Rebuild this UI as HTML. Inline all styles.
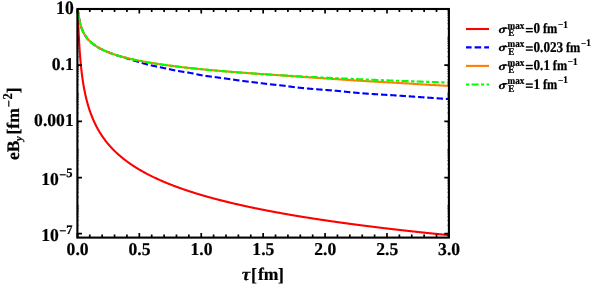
<!DOCTYPE html>
<html><head><meta charset="utf-8"><style>
html,body{margin:0;padding:0;background:#fff;}
svg{display:block;will-change:transform;transform:translateZ(0)}
text{font-family:"Liberation Serif",serif;font-weight:bold;fill:#000;stroke:#000;stroke-width:0.22px;text-rendering:geometricPrecision}
</style></head><body>
<svg width="599" height="285" viewBox="0 0 599 285">
<rect width="599" height="285" fill="#fff"/>
<defs><clipPath id="c"><rect x="77.40" y="9.00" width="371.50" height="228.60"/></clipPath></defs>
<g clip-path="url(#c)" fill="none" stroke-width="2.1" stroke-linejoin="round">
<path d="M77.40,9.00 L77.50,9.31 L77.60,10.20 L77.70,11.59 L77.80,13.38 L77.90,15.44 L78.00,17.69 L78.10,20.03 L78.20,22.41 L78.30,24.77 L78.40,27.10 L78.50,29.36 L78.60,31.56 L78.70,33.69 L78.80,35.73 L78.90,37.70 L79.00,39.60 L79.10,41.42 L79.20,43.17 L79.30,44.86 L79.40,46.48 L79.50,48.05 L79.60,49.55 L79.70,51.01 L79.80,52.42 L79.90,53.78 L80.00,55.09 L80.10,56.37 L80.20,57.60 L80.30,58.80 L80.40,59.96 L80.50,61.09 L80.60,62.18 L80.70,63.25 L80.80,64.29 L80.90,65.30 L81.00,66.28 L81.10,67.24 L81.20,68.18 L81.30,69.09 L81.40,69.99 L81.50,70.86 L81.60,71.71 L81.70,72.55 L81.80,73.36 L81.90,74.16 L82.00,74.94 L82.10,75.71 L82.20,76.46 L82.30,77.20 L82.40,77.92 L82.50,78.63 L82.60,79.32 L82.70,80.00 L82.80,80.67 L82.90,81.33 L83.00,81.98 L83.10,82.61 L83.20,83.24 L83.30,83.85 L83.40,84.46 L83.60,85.64 L83.80,86.79 L84.00,87.90 L84.20,88.97 L84.40,90.02 L84.60,91.04 L84.80,92.03 L85.00,93.00 L85.20,93.94 L85.40,94.86 L85.60,95.75 L85.80,96.63 L86.00,97.48 L86.20,98.32 L86.40,99.13 L86.60,99.93 L86.80,100.71 L87.00,101.48 L87.20,102.23 L87.40,102.96 L87.60,103.69 L87.80,104.39 L88.00,105.09 L88.20,105.77 L88.40,106.43 L88.60,107.09 L88.80,107.74 L89.00,108.37 L89.20,108.99 L89.40,109.60 L89.60,110.21 L89.80,110.80 L90.00,111.38 L90.20,111.96 L90.40,112.52 L90.60,113.08 L90.80,113.63 L91.00,114.17 L91.20,114.70 L91.40,115.23 L91.60,115.74 L91.80,116.25 L92.00,116.76 L92.20,117.25 L92.40,117.74 L92.60,118.23 L92.80,118.70 L93.00,119.18 L93.20,119.64 L93.40,120.10 L93.60,120.55 L93.80,121.00 L94.00,121.44 L94.20,121.88 L94.40,122.31 L94.60,122.74 L94.80,123.16 L95.00,123.58 L95.20,123.99 L95.40,124.40 L95.60,124.81 L95.80,125.20 L96.00,125.60 L96.20,125.99 L96.40,126.38 L96.60,126.76 L96.80,127.14 L97.00,127.51 L97.20,127.88 L97.40,128.25 L97.60,128.61 L97.80,128.98 L98.00,129.33 L98.20,129.68 L98.40,130.03 L98.60,130.38 L98.80,130.72 L99.00,131.06 L99.20,131.40 L99.40,131.73 L99.60,132.07 L99.80,132.39 L100.00,132.72 L100.20,133.04 L100.40,133.36 L100.60,133.68 L100.80,133.99 L101.00,134.30 L101.20,134.61 L101.40,134.92 L101.60,135.22 L101.80,135.52 L102.00,135.82 L102.20,136.11 L102.40,136.41 L102.60,136.70 L102.80,136.99 L103.00,137.28 L103.20,137.56 L103.40,137.84 L103.60,138.12 L103.80,138.40 L104.00,138.68 L104.20,138.95 L104.40,139.22 L104.60,139.49 L104.80,139.76 L105.00,140.03 L105.20,140.29 L105.40,140.55 L105.60,140.81 L105.80,141.07 L106.00,141.33 L106.20,141.58 L106.40,141.84 L106.60,142.09 L106.80,142.34 L107.00,142.58 L107.20,142.83 L107.40,143.08 L107.60,143.32 L107.80,143.56 L108.00,143.80 L108.20,144.04 L108.40,144.27 L108.60,144.51 L108.80,144.74 L109.00,144.98 L109.20,145.21 L109.40,145.44 L109.60,145.66 L109.80,145.89 L110.00,146.12 L110.20,146.34 L110.40,146.56 L110.60,146.78 L110.80,147.00 L111.00,147.22 L111.20,147.44 L111.40,147.65 L111.60,147.87 L111.80,148.08 L112.00,148.29 L112.20,148.50 L112.40,148.71 L112.60,148.92 L112.80,149.13 L113.00,149.34 L113.20,149.54 L113.40,149.74 L113.60,149.95 L113.80,150.15 L114.00,150.35 L114.20,150.55 L114.40,150.75 L114.60,150.94 L114.80,151.14 L115.00,151.34 L115.20,151.53 L115.40,151.72 L115.60,151.91 L115.80,152.11 L116.00,152.30 L116.20,152.48 L116.40,152.67 L116.60,152.86 L116.80,153.05 L117.00,153.23 L117.20,153.42 L117.40,153.60 L117.90,154.05 L118.40,154.50 L118.90,154.95 L119.40,155.39 L119.90,155.82 L120.40,156.25 L120.90,156.67 L121.41,157.09 L121.91,157.50 L122.41,157.91 L122.91,158.32 L123.41,158.72 L123.91,159.11 L124.41,159.51 L124.91,159.89 L125.41,160.28 L125.91,160.66 L126.41,161.03 L126.91,161.41 L127.41,161.77 L127.92,162.14 L128.42,162.50 L128.92,162.86 L129.42,163.21 L129.92,163.56 L130.42,163.91 L130.92,164.25 L131.42,164.59 L131.92,164.93 L132.42,165.26 L132.92,165.60 L133.42,165.93 L133.92,166.25 L134.42,166.57 L134.93,166.89 L135.43,167.21 L135.93,167.52 L136.43,167.84 L136.93,168.15 L137.43,168.45 L137.93,168.76 L138.43,169.06 L138.93,169.36 L139.43,169.65 L139.93,169.95 L140.43,170.24 L140.93,170.53 L141.44,170.82 L141.94,171.10 L142.44,171.38 L142.94,171.66 L143.44,171.94 L143.94,172.22 L144.44,172.49 L144.94,172.77 L145.44,173.04 L145.94,173.31 L146.44,173.57 L146.94,173.84 L147.44,174.10 L147.95,174.36 L148.45,174.62 L148.95,174.87 L149.45,175.13 L149.95,175.38 L150.45,175.64 L150.95,175.89 L151.45,176.13 L151.95,176.38 L152.45,176.63 L152.95,176.87 L153.45,177.11 L153.95,177.35 L154.46,177.59 L154.96,177.83 L155.46,178.06 L155.96,178.30 L156.46,178.53 L156.96,178.76 L157.46,178.99 L157.96,179.22 L158.46,179.44 L158.96,179.67 L159.46,179.89 L159.96,180.12 L160.46,180.34 L160.97,180.56 L161.47,180.78 L161.97,180.99 L162.47,181.21 L162.97,181.42 L163.47,181.64 L163.97,181.85 L164.47,182.06 L164.97,182.27 L165.47,182.48 L165.97,182.69 L166.47,182.89 L166.97,183.10 L167.47,183.30 L167.98,183.51 L168.48,183.71 L168.98,183.91 L169.48,184.11 L169.98,184.31 L170.48,184.50 L170.98,184.70 L171.48,184.89 L171.98,185.09 L172.48,185.28 L172.98,185.47 L173.48,185.67 L173.98,185.86 L174.49,186.05 L174.99,186.23 L175.49,186.42 L175.99,186.61 L176.49,186.79 L176.99,186.98 L177.49,187.16 L177.99,187.34 L178.49,187.52 L178.99,187.71 L179.49,187.89 L179.99,188.06 L180.49,188.24 L181.00,188.42 L181.50,188.60 L182.00,188.77 L182.50,188.95 L183.00,189.12 L183.50,189.29 L184.00,189.47 L184.50,189.64 L185.00,189.81 L185.50,189.98 L186.00,190.15 L186.50,190.32 L187.00,190.48 L187.51,190.65 L188.01,190.82 L188.51,190.98 L189.01,191.15 L189.51,191.31 L190.01,191.47 L190.51,191.64 L191.01,191.80 L191.51,191.96 L192.01,192.12 L192.51,192.28 L193.01,192.44 L193.51,192.60 L194.01,192.75 L194.52,192.91 L195.02,193.07 L195.52,193.22 L196.02,193.38 L196.52,193.53 L197.02,193.68 L197.52,193.84 L198.02,193.99 L198.52,194.14 L199.02,194.29 L199.52,194.44 L200.02,194.59 L200.52,194.74 L201.03,194.89 L201.53,195.04 L202.03,195.18 L202.53,195.33 L203.03,195.48 L203.53,195.62 L204.03,195.77 L204.53,195.91 L205.03,196.06 L205.53,196.20 L206.03,196.34 L206.53,196.48 L207.03,196.63 L207.54,196.77 L208.04,196.91 L208.54,197.05 L209.04,197.19 L209.54,197.33 L210.04,197.46 L210.54,197.60 L211.04,197.74 L211.54,197.88 L212.04,198.01 L212.54,198.15 L213.04,198.28 L213.54,198.42 L214.05,198.55 L214.55,198.69 L215.05,198.82 L215.55,198.95 L216.05,199.09 L216.55,199.22 L217.05,199.35 L217.55,199.48 L218.05,199.61 L218.55,199.74 L219.05,199.87 L219.55,200.00 L220.05,200.13 L220.56,200.26 L221.06,200.38 L221.56,200.51 L222.06,200.64 L222.56,200.77 L223.06,200.89 L223.56,201.02 L224.06,201.14 L224.56,201.27 L225.06,201.39 L225.56,201.52 L226.06,201.64 L226.56,201.76 L227.06,201.88 L227.57,202.01 L228.07,202.13 L228.57,202.25 L229.07,202.37 L229.57,202.49 L230.07,202.61 L230.57,202.73 L231.07,202.85 L231.57,202.97 L232.07,203.09 L232.57,203.21 L233.07,203.32 L233.57,203.44 L234.08,203.56 L234.58,203.68 L235.08,203.79 L235.58,203.91 L236.08,204.02 L236.58,204.14 L237.08,204.25 L237.58,204.37 L238.08,204.48 L238.58,204.60 L239.08,204.71 L239.58,204.82 L240.08,204.94 L240.59,205.05 L241.09,205.16 L241.59,205.27 L242.09,205.38 L242.59,205.50 L243.09,205.61 L243.59,205.72 L244.09,205.83 L244.59,205.94 L245.09,206.05 L245.59,206.16 L246.09,206.26 L246.59,206.37 L247.10,206.48 L247.60,206.59 L248.10,206.70 L248.60,206.80 L249.10,206.91 L249.60,207.02 L250.10,207.12 L250.60,207.23 L251.10,207.33 L251.60,207.44 L252.10,207.55 L252.60,207.65 L253.10,207.75 L253.60,207.86 L254.11,207.96 L254.61,208.07 L255.11,208.17 L255.61,208.27 L256.11,208.38 L256.61,208.48 L257.11,208.58 L257.61,208.68 L258.11,208.78 L258.61,208.88 L259.11,208.99 L259.61,209.09 L260.11,209.19 L260.62,209.29 L261.12,209.39 L261.62,209.49 L262.12,209.59 L262.62,209.68 L263.12,209.78 L263.62,209.88 L264.12,209.98 L264.62,210.08 L265.12,210.18 L265.62,210.27 L266.12,210.37 L266.62,210.47 L267.13,210.56 L267.63,210.66 L268.13,210.76 L268.63,210.85 L269.13,210.95 L269.63,211.04 L270.13,211.14 L270.63,211.23 L271.13,211.33 L271.63,211.42 L272.13,211.52 L272.63,211.61 L273.13,211.71 L273.64,211.80 L274.14,211.89 L274.64,211.99 L275.14,212.08 L275.64,212.17 L276.14,212.26 L276.64,212.36 L277.14,212.45 L277.64,212.54 L278.14,212.63 L278.64,212.72 L279.14,212.81 L279.64,212.90 L280.15,212.99 L280.65,213.08 L281.15,213.17 L281.65,213.26 L282.15,213.35 L282.65,213.44 L283.15,213.53 L283.65,213.62 L284.15,213.71 L284.65,213.80 L285.15,213.89 L285.65,213.97 L286.15,214.06 L286.65,214.15 L287.16,214.24 L287.66,214.32 L288.16,214.41 L288.66,214.50 L289.16,214.59 L289.66,214.67 L290.16,214.76 L290.66,214.84 L291.16,214.93 L291.66,215.02 L292.16,215.10 L292.66,215.19 L293.16,215.27 L293.67,215.36 L294.17,215.44 L294.67,215.53 L295.17,215.61 L295.67,215.69 L296.17,215.78 L296.67,215.86 L297.17,215.94 L297.67,216.03 L298.17,216.11 L298.67,216.19 L299.17,216.28 L299.67,216.36 L300.18,216.44 L300.68,216.52 L301.18,216.61 L301.68,216.69 L302.18,216.77 L302.68,216.85 L303.18,216.93 L303.68,217.01 L304.18,217.09 L304.68,217.17 L305.18,217.25 L305.68,217.34 L306.18,217.42 L306.69,217.50 L307.19,217.58 L307.69,217.66 L308.19,217.73 L308.69,217.81 L309.19,217.89 L309.69,217.97 L310.19,218.05 L310.69,218.13 L311.19,218.21 L311.69,218.29 L312.19,218.36 L312.69,218.44 L313.20,218.52 L313.70,218.60 L314.20,218.68 L314.70,218.75 L315.20,218.83 L315.70,218.91 L316.20,218.98 L316.70,219.06 L317.20,219.14 L317.70,219.21 L318.20,219.29 L318.70,219.37 L319.20,219.44 L319.70,219.52 L320.21,219.59 L320.71,219.67 L321.21,219.74 L321.71,219.82 L322.21,219.89 L322.71,219.97 L323.21,220.04 L323.71,220.12 L324.21,220.19 L324.71,220.27 L325.21,220.34 L325.71,220.41 L326.21,220.49 L326.72,220.56 L327.22,220.63 L327.72,220.71 L328.22,220.78 L328.72,220.85 L329.22,220.93 L329.72,221.00 L330.22,221.07 L330.72,221.14 L331.22,221.22 L331.72,221.29 L332.22,221.36 L332.72,221.43 L333.23,221.50 L333.73,221.58 L334.23,221.65 L334.73,221.72 L335.23,221.79 L335.73,221.86 L336.23,221.93 L336.73,222.00 L337.23,222.07 L337.73,222.14 L338.23,222.21 L338.73,222.28 L339.23,222.35 L339.74,222.42 L340.24,222.49 L340.74,222.56 L341.24,222.63 L341.74,222.70 L342.24,222.77 L342.74,222.84 L343.24,222.91 L343.74,222.98 L344.24,223.05 L344.74,223.12 L345.24,223.18 L345.74,223.25 L346.24,223.32 L346.75,223.39 L347.25,223.46 L347.75,223.52 L348.25,223.59 L348.75,223.66 L349.25,223.73 L349.75,223.79 L350.25,223.86 L350.75,223.93 L351.25,224.00 L351.75,224.06 L352.25,224.13 L352.75,224.20 L353.26,224.26 L353.76,224.33 L354.26,224.40 L354.76,224.46 L355.26,224.53 L355.76,224.59 L356.26,224.66 L356.76,224.72 L357.26,224.79 L357.76,224.86 L358.26,224.92 L358.76,224.99 L359.26,225.05 L359.77,225.12 L360.27,225.18 L360.77,225.25 L361.27,225.31 L361.77,225.38 L362.27,225.44 L362.77,225.50 L363.27,225.57 L363.77,225.63 L364.27,225.70 L364.77,225.76 L365.27,225.82 L365.77,225.89 L366.28,225.95 L366.78,226.01 L367.28,226.08 L367.78,226.14 L368.28,226.20 L368.78,226.27 L369.28,226.33 L369.78,226.39 L370.28,226.45 L370.78,226.52 L371.28,226.58 L371.78,226.64 L372.28,226.70 L372.79,226.77 L373.29,226.83 L373.79,226.89 L374.29,226.95 L374.79,227.01 L375.29,227.08 L375.79,227.14 L376.29,227.20 L376.79,227.26 L377.29,227.32 L377.79,227.38 L378.29,227.44 L378.79,227.50 L379.29,227.56 L379.80,227.62 L380.30,227.69 L380.80,227.75 L381.30,227.81 L381.80,227.87 L382.30,227.93 L382.80,227.99 L383.30,228.05 L383.80,228.11 L384.30,228.17 L384.80,228.23 L385.30,228.29 L385.80,228.34 L386.31,228.40 L386.81,228.46 L387.31,228.52 L387.81,228.58 L388.31,228.64 L388.81,228.70 L389.31,228.76 L389.81,228.82 L390.31,228.88 L390.81,228.93 L391.31,228.99 L391.81,229.05 L392.31,229.11 L392.82,229.17 L393.32,229.23 L393.82,229.28 L394.32,229.34 L394.82,229.40 L395.32,229.46 L395.82,229.51 L396.32,229.57 L396.82,229.63 L397.32,229.69 L397.82,229.74 L398.32,229.80 L398.82,229.86 L399.33,229.92 L399.83,229.97 L400.33,230.03 L400.83,230.09 L401.33,230.14 L401.83,230.20 L402.33,230.26 L402.83,230.31 L403.33,230.37 L403.83,230.42 L404.33,230.48 L404.83,230.54 L405.33,230.59 L405.83,230.65 L406.34,230.70 L406.84,230.76 L407.34,230.81 L407.84,230.87 L408.34,230.93 L408.84,230.98 L409.34,231.04 L409.84,231.09 L410.34,231.15 L410.84,231.20 L411.34,231.26 L411.84,231.31 L412.34,231.37 L412.85,231.42 L413.35,231.48 L413.85,231.53 L414.35,231.58 L414.85,231.64 L415.35,231.69 L415.85,231.75 L416.35,231.80 L416.85,231.86 L417.35,231.91 L417.85,231.96 L418.35,232.02 L418.85,232.07 L419.36,232.12 L419.86,232.18 L420.36,232.23 L420.86,232.28 L421.36,232.34 L421.86,232.39 L422.36,232.44 L422.86,232.50 L423.36,232.55 L423.86,232.60 L424.36,232.66 L424.86,232.71 L425.36,232.76 L425.87,232.81 L426.37,232.87 L426.87,232.92 L427.37,232.97 L427.87,233.02 L428.37,233.08 L428.87,233.13 L429.37,233.18 L429.87,233.23 L430.37,233.28 L430.87,233.34 L431.37,233.39 L431.87,233.44 L432.38,233.49 L432.88,233.54 L433.38,233.59 L433.88,233.65 L434.38,233.70 L434.88,233.75 L435.38,233.80 L435.88,233.85 L436.38,233.90 L436.88,233.95 L437.38,234.00 L437.88,234.06 L438.38,234.11 L438.88,234.16 L439.39,234.21 L439.89,234.26 L440.39,234.31 L440.89,234.36 L441.39,234.41 L441.89,234.46 L442.39,234.51 L442.89,234.56 L443.39,234.61 L443.89,234.66 L444.39,234.71 L444.89,234.76 L445.39,234.81 L445.90,234.86 L446.40,234.91 L446.90,234.96 L447.40,235.01 L447.90,235.06 L448.40,235.11 L448.90,235.16" stroke="#ff0000"/>
<path d="M77.40,9.00 L77.50,9.08 L77.60,9.30 L77.70,9.65 L77.80,10.12 L77.90,10.67 L78.00,11.28 L78.10,11.93 L78.20,12.60 L78.30,13.29 L78.40,13.97 L78.50,14.64 L78.60,15.31 L78.70,15.95 L78.80,16.58 L78.90,17.19 L79.00,17.78 L79.10,18.36 L79.20,18.91 L79.30,19.44 L79.40,19.96 L79.50,20.46 L79.60,20.95 L79.70,21.41 L79.80,21.87 L79.90,22.31 L80.00,22.73 L80.10,23.15 L80.20,23.55 L80.30,23.94 L80.40,24.32 L80.50,24.69 L80.60,25.05 L80.70,25.39 L80.80,25.73 L80.90,26.07 L81.00,26.39 L81.10,26.70 L81.20,27.01 L81.30,27.31 L81.40,27.61 L81.50,27.89 L81.60,28.18 L81.70,28.45 L81.80,28.72 L81.90,28.98 L82.00,29.24 L82.10,29.49 L82.20,29.74 L82.30,29.99 L82.40,30.22 L82.50,30.46 L82.60,30.69 L82.70,30.91 L82.80,31.14 L82.90,31.35 L83.00,31.57 L83.10,31.78 L83.20,31.99 L83.30,32.19 L83.40,32.39 L83.60,32.78 L83.80,33.16 L84.00,33.53 L84.20,33.89 L84.40,34.24 L84.60,34.58 L84.80,34.90 L85.00,35.23 L85.20,35.54 L85.40,35.84 L85.60,36.14 L85.80,36.43 L86.00,36.71 L86.20,36.99 L86.40,37.26 L86.60,37.53 L86.80,37.79 L87.00,38.04 L87.20,38.29 L87.40,38.54 L87.60,38.78 L87.80,39.01 L88.00,39.24 L88.20,39.47 L88.40,39.69 L88.60,39.91 L88.80,40.13 L89.00,40.34 L89.20,40.54 L89.40,40.75 L89.60,40.95 L89.80,41.15 L90.00,41.34 L90.20,41.53 L90.40,41.72 L90.60,41.90 L90.80,42.09 L91.00,42.27 L91.20,42.44 L91.40,42.62 L91.60,42.79 L91.80,42.96 L92.00,43.13 L92.20,43.29 L92.40,43.46 L92.60,43.62 L92.80,43.78 L93.00,43.93 L93.20,44.09 L93.40,44.24 L93.60,44.39 L93.80,44.54 L94.00,44.69 L94.20,44.84 L94.40,44.98 L94.60,45.12 L94.80,45.26 L95.00,45.40 L95.20,45.54 L95.40,45.68 L95.60,45.81 L95.80,45.94 L96.00,46.07 L96.20,46.20 L96.40,46.33 L96.60,46.46 L96.80,46.59 L97.00,46.71 L97.20,46.84 L97.40,46.96 L97.60,47.08 L97.80,47.20 L98.00,47.32 L98.20,47.44 L98.40,47.55 L98.60,47.67 L98.80,47.78 L99.00,47.89 L99.20,48.01 L99.40,48.12 L99.60,48.23 L99.80,48.34 L100.00,48.45 L100.20,48.55 L100.40,48.66 L100.60,48.77 L100.80,48.87 L101.00,48.97 L101.20,49.08 L101.40,49.18 L101.60,49.28 L101.80,49.38 L102.00,49.48 L102.20,49.58 L102.40,49.68 L102.60,49.77 L102.80,49.87 L103.00,49.96 L103.20,50.06 L103.40,50.15 L103.60,50.25 L103.80,50.34 L104.00,50.43 L104.20,50.52 L104.40,50.61 L104.60,50.70 L104.80,50.79 L105.00,50.88 L105.20,50.97 L105.40,51.06 L105.60,51.14 L105.80,51.23 L106.00,51.31 L106.20,51.40 L106.40,51.48 L106.60,51.57 L106.80,51.65 L107.00,51.73 L107.20,51.82 L107.40,51.90 L107.60,51.98 L107.80,52.06 L108.00,52.14 L108.20,52.22 L108.40,52.30 L108.60,52.38 L108.80,52.45 L109.00,52.53 L109.20,52.61 L109.40,52.68 L109.60,52.76 L109.80,52.84 L110.00,52.91 L110.20,52.99 L110.40,53.06 L110.60,53.13 L110.80,53.21 L111.00,53.28 L111.20,53.35 L111.40,53.43 L111.60,53.50 L111.80,53.57 L112.00,53.64 L112.20,53.71 L112.40,53.78 L112.60,53.85 L112.80,53.93 L113.00,54.00 L113.20,54.07 L113.40,54.13 L113.60,54.20 L113.80,54.27 L114.00,54.34 L114.20,54.41 L114.40,54.48 L114.60,54.55 L114.80,54.61 L115.00,54.68 L115.20,54.75 L115.40,54.82 L115.60,54.88 L115.80,54.95 L116.00,55.01 L116.20,55.08 L116.40,55.15 L116.60,55.21 L116.80,55.28 L117.00,55.34 L117.20,55.40 L117.40,55.47 L117.90,55.63 L118.40,55.79 L118.90,55.94 L119.40,56.10 L119.90,56.25 L120.40,56.41 L120.90,56.56 L121.41,56.71 L121.91,56.85 L122.41,57.00 L122.91,57.15 L123.41,57.30 L123.91,57.45 L124.41,57.60 L124.91,57.76 L125.41,57.91 L125.91,58.07 L126.41,58.22 L126.91,58.38 L127.41,58.53 L127.92,58.69 L128.42,58.84 L128.92,59.00 L129.42,59.15 L129.92,59.31 L130.42,59.46 L130.92,59.61 L131.42,59.77 L131.92,59.92 L132.42,60.07 L132.92,60.22 L133.42,60.37 L133.92,60.52 L134.42,60.66 L134.93,60.81 L135.43,60.96 L135.93,61.11 L136.43,61.26 L136.93,61.41 L137.43,61.57 L137.93,61.72 L138.43,61.87 L138.93,62.03 L139.43,62.18 L139.93,62.34 L140.43,62.49 L140.93,62.64 L141.44,62.79 L141.94,62.94 L142.44,63.09 L142.94,63.24 L143.44,63.39 L143.94,63.53 L144.44,63.68 L144.94,63.82 L145.44,63.96 L145.94,64.09 L146.44,64.23 L146.94,64.36 L147.44,64.49 L147.95,64.61 L148.45,64.74 L148.95,64.86 L149.45,64.97 L149.95,65.09 L150.45,65.21 L150.95,65.32 L151.45,65.43 L151.95,65.54 L152.45,65.65 L152.95,65.76 L153.45,65.87 L153.95,65.97 L154.46,66.08 L154.96,66.18 L155.46,66.29 L155.96,66.39 L156.46,66.49 L156.96,66.60 L157.46,66.70 L157.96,66.80 L158.46,66.90 L158.96,67.01 L159.46,67.11 L159.96,67.21 L160.46,67.31 L160.97,67.42 L161.47,67.52 L161.97,67.63 L162.47,67.73 L162.97,67.84 L163.47,67.95 L163.97,68.05 L164.47,68.16 L164.97,68.27 L165.47,68.38 L165.97,68.49 L166.47,68.60 L166.97,68.71 L167.47,68.82 L167.98,68.93 L168.48,69.04 L168.98,69.15 L169.48,69.26 L169.98,69.37 L170.48,69.48 L170.98,69.58 L171.48,69.69 L171.98,69.80 L172.48,69.90 L172.98,70.00 L173.48,70.11 L173.98,70.21 L174.49,70.31 L174.99,70.40 L175.49,70.50 L175.99,70.59 L176.49,70.69 L176.99,70.78 L177.49,70.87 L177.99,70.95 L178.49,71.04 L178.99,71.13 L179.49,71.21 L179.99,71.29 L180.49,71.38 L181.00,71.46 L181.50,71.54 L182.00,71.62 L182.50,71.70 L183.00,71.78 L183.50,71.86 L184.00,71.94 L184.50,72.02 L185.00,72.10 L185.50,72.18 L186.00,72.26 L186.50,72.34 L187.00,72.42 L187.51,72.50 L188.01,72.58 L188.51,72.66 L189.01,72.75 L189.51,72.83 L190.01,72.92 L190.51,73.00 L191.01,73.09 L191.51,73.19 L192.01,73.28 L192.51,73.38 L193.01,73.48 L193.51,73.58 L194.01,73.69 L194.52,73.79 L195.02,73.90 L195.52,74.00 L196.02,74.11 L196.52,74.22 L197.02,74.32 L197.52,74.43 L198.02,74.54 L198.52,74.64 L199.02,74.75 L199.52,74.85 L200.02,74.95 L200.52,75.05 L201.03,75.14 L201.53,75.24 L202.03,75.33 L202.53,75.42 L203.03,75.50 L203.53,75.58 L204.03,75.66 L204.53,75.74 L205.03,75.81 L205.53,75.88 L206.03,75.95 L206.53,76.02 L207.03,76.09 L207.54,76.15 L208.04,76.22 L208.54,76.28 L209.04,76.35 L209.54,76.41 L210.04,76.48 L210.54,76.54 L211.04,76.60 L211.54,76.67 L212.04,76.73 L212.54,76.79 L213.04,76.86 L213.54,76.92 L214.05,76.99 L214.55,77.06 L215.05,77.12 L215.55,77.19 L216.05,77.26 L216.55,77.32 L217.05,77.39 L217.55,77.46 L218.05,77.53 L218.55,77.59 L219.05,77.66 L219.55,77.73 L220.05,77.79 L220.56,77.86 L221.06,77.93 L221.56,78.00 L222.06,78.06 L222.56,78.13 L223.06,78.20 L223.56,78.27 L224.06,78.33 L224.56,78.40 L225.06,78.47 L225.56,78.54 L226.06,78.61 L226.56,78.67 L227.06,78.74 L227.57,78.81 L228.07,78.88 L228.57,78.95 L229.07,79.02 L229.57,79.09 L230.07,79.16 L230.57,79.23 L231.07,79.30 L231.57,79.37 L232.07,79.45 L232.57,79.52 L233.07,79.59 L233.57,79.66 L234.08,79.74 L234.58,79.81 L235.08,79.88 L235.58,79.96 L236.08,80.03 L236.58,80.10 L237.08,80.17 L237.58,80.25 L238.08,80.32 L238.58,80.39 L239.08,80.46 L239.58,80.53 L240.08,80.60 L240.59,80.67 L241.09,80.73 L241.59,80.80 L242.09,80.87 L242.59,80.93 L243.09,80.99 L243.59,81.06 L244.09,81.12 L244.59,81.18 L245.09,81.25 L245.59,81.31 L246.09,81.37 L246.59,81.43 L247.10,81.49 L247.60,81.55 L248.10,81.61 L248.60,81.67 L249.10,81.73 L249.60,81.79 L250.10,81.85 L250.60,81.90 L251.10,81.96 L251.60,82.02 L252.10,82.08 L252.60,82.14 L253.10,82.20 L253.60,82.26 L254.11,82.32 L254.61,82.38 L255.11,82.44 L255.61,82.50 L256.11,82.56 L256.61,82.62 L257.11,82.68 L257.61,82.74 L258.11,82.80 L258.61,82.87 L259.11,82.93 L259.61,82.99 L260.11,83.05 L260.62,83.12 L261.12,83.18 L261.62,83.24 L262.12,83.31 L262.62,83.37 L263.12,83.43 L263.62,83.50 L264.12,83.56 L264.62,83.62 L265.12,83.68 L265.62,83.75 L266.12,83.81 L266.62,83.87 L267.13,83.93 L267.63,83.99 L268.13,84.05 L268.63,84.11 L269.13,84.17 L269.63,84.22 L270.13,84.28 L270.63,84.34 L271.13,84.39 L271.63,84.45 L272.13,84.50 L272.63,84.55 L273.13,84.60 L273.64,84.66 L274.14,84.71 L274.64,84.76 L275.14,84.81 L275.64,84.86 L276.14,84.91 L276.64,84.96 L277.14,85.01 L277.64,85.06 L278.14,85.11 L278.64,85.16 L279.14,85.21 L279.64,85.26 L280.15,85.31 L280.65,85.36 L281.15,85.42 L281.65,85.47 L282.15,85.52 L282.65,85.58 L283.15,85.63 L283.65,85.69 L284.15,85.75 L284.65,85.81 L285.15,85.87 L285.65,85.94 L286.15,86.01 L286.65,86.08 L287.16,86.15 L287.66,86.22 L288.16,86.29 L288.66,86.37 L289.16,86.44 L289.66,86.51 L290.16,86.59 L290.66,86.66 L291.16,86.73 L291.66,86.80 L292.16,86.87 L292.66,86.94 L293.16,87.01 L293.67,87.07 L294.17,87.13 L294.67,87.19 L295.17,87.25 L295.67,87.30 L296.17,87.36 L296.67,87.42 L297.17,87.47 L297.67,87.53 L298.17,87.59 L298.67,87.64 L299.17,87.70 L299.67,87.75 L300.18,87.80 L300.68,87.86 L301.18,87.91 L301.68,87.96 L302.18,88.01 L302.68,88.06 L303.18,88.11 L303.68,88.16 L304.18,88.21 L304.68,88.26 L305.18,88.31 L305.68,88.36 L306.18,88.40 L306.69,88.45 L307.19,88.50 L307.69,88.54 L308.19,88.59 L308.69,88.63 L309.19,88.67 L309.69,88.72 L310.19,88.76 L310.69,88.80 L311.19,88.84 L311.69,88.88 L312.19,88.93 L312.69,88.97 L313.20,89.01 L313.70,89.05 L314.20,89.09 L314.70,89.12 L315.20,89.16 L315.70,89.20 L316.20,89.24 L316.70,89.28 L317.20,89.32 L317.70,89.36 L318.20,89.40 L318.70,89.43 L319.20,89.47 L319.70,89.51 L320.21,89.55 L320.71,89.59 L321.21,89.63 L321.71,89.67 L322.21,89.71 L322.71,89.74 L323.21,89.78 L323.71,89.82 L324.21,89.86 L324.71,89.90 L325.21,89.93 L325.71,89.97 L326.21,90.01 L326.72,90.05 L327.22,90.08 L327.72,90.12 L328.22,90.16 L328.72,90.19 L329.22,90.23 L329.72,90.27 L330.22,90.31 L330.72,90.34 L331.22,90.38 L331.72,90.42 L332.22,90.46 L332.72,90.50 L333.23,90.54 L333.73,90.58 L334.23,90.62 L334.73,90.66 L335.23,90.70 L335.73,90.74 L336.23,90.78 L336.73,90.83 L337.23,90.87 L337.73,90.92 L338.23,90.96 L338.73,91.01 L339.23,91.06 L339.74,91.11 L340.24,91.17 L340.74,91.22 L341.24,91.27 L341.74,91.33 L342.24,91.38 L342.74,91.44 L343.24,91.49 L343.74,91.55 L344.24,91.60 L344.74,91.66 L345.24,91.71 L345.74,91.76 L346.24,91.82 L346.75,91.87 L347.25,91.93 L347.75,91.98 L348.25,92.03 L348.75,92.08 L349.25,92.13 L349.75,92.18 L350.25,92.23 L350.75,92.27 L351.25,92.32 L351.75,92.37 L352.25,92.42 L352.75,92.46 L353.26,92.51 L353.76,92.55 L354.26,92.60 L354.76,92.65 L355.26,92.69 L355.76,92.74 L356.26,92.78 L356.76,92.83 L357.26,92.87 L357.76,92.92 L358.26,92.96 L358.76,93.00 L359.26,93.05 L359.77,93.09 L360.27,93.13 L360.77,93.17 L361.27,93.21 L361.77,93.25 L362.27,93.29 L362.77,93.33 L363.27,93.37 L363.77,93.41 L364.27,93.44 L364.77,93.48 L365.27,93.52 L365.77,93.55 L366.28,93.59 L366.78,93.63 L367.28,93.66 L367.78,93.70 L368.28,93.73 L368.78,93.77 L369.28,93.80 L369.78,93.83 L370.28,93.87 L370.78,93.90 L371.28,93.93 L371.78,93.97 L372.28,94.00 L372.79,94.03 L373.29,94.07 L373.79,94.10 L374.29,94.13 L374.79,94.16 L375.29,94.19 L375.79,94.23 L376.29,94.26 L376.79,94.29 L377.29,94.32 L377.79,94.35 L378.29,94.38 L378.79,94.41 L379.29,94.44 L379.80,94.47 L380.30,94.50 L380.80,94.53 L381.30,94.56 L381.80,94.59 L382.30,94.62 L382.80,94.65 L383.30,94.69 L383.80,94.72 L384.30,94.75 L384.80,94.78 L385.30,94.81 L385.80,94.84 L386.31,94.87 L386.81,94.90 L387.31,94.93 L387.81,94.96 L388.31,94.99 L388.81,95.02 L389.31,95.05 L389.81,95.08 L390.31,95.11 L390.81,95.14 L391.31,95.17 L391.81,95.20 L392.31,95.23 L392.82,95.26 L393.32,95.29 L393.82,95.32 L394.32,95.35 L394.82,95.39 L395.32,95.42 L395.82,95.45 L396.32,95.48 L396.82,95.51 L397.32,95.55 L397.82,95.58 L398.32,95.61 L398.82,95.64 L399.33,95.68 L399.83,95.71 L400.33,95.74 L400.83,95.78 L401.33,95.81 L401.83,95.84 L402.33,95.88 L402.83,95.91 L403.33,95.94 L403.83,95.98 L404.33,96.01 L404.83,96.04 L405.33,96.08 L405.83,96.11 L406.34,96.15 L406.84,96.18 L407.34,96.22 L407.84,96.25 L408.34,96.28 L408.84,96.32 L409.34,96.35 L409.84,96.39 L410.34,96.42 L410.84,96.46 L411.34,96.49 L411.84,96.53 L412.34,96.56 L412.85,96.59 L413.35,96.63 L413.85,96.66 L414.35,96.70 L414.85,96.73 L415.35,96.77 L415.85,96.80 L416.35,96.84 L416.85,96.87 L417.35,96.91 L417.85,96.94 L418.35,96.98 L418.85,97.01 L419.36,97.05 L419.86,97.08 L420.36,97.12 L420.86,97.15 L421.36,97.19 L421.86,97.22 L422.36,97.26 L422.86,97.29 L423.36,97.33 L423.86,97.36 L424.36,97.39 L424.86,97.43 L425.36,97.46 L425.87,97.50 L426.37,97.53 L426.87,97.57 L427.37,97.60 L427.87,97.64 L428.37,97.67 L428.87,97.71 L429.37,97.74 L429.87,97.78 L430.37,97.81 L430.87,97.85 L431.37,97.88 L431.87,97.92 L432.38,97.95 L432.88,97.99 L433.38,98.02 L433.88,98.06 L434.38,98.10 L434.88,98.13 L435.38,98.17 L435.88,98.20 L436.38,98.24 L436.88,98.27 L437.38,98.31 L437.88,98.34 L438.38,98.38 L438.88,98.42 L439.39,98.45 L439.89,98.49 L440.39,98.52 L440.89,98.56 L441.39,98.59 L441.89,98.63 L442.39,98.66 L442.89,98.69 L443.39,98.73 L443.89,98.76 L444.39,98.80 L444.89,98.83 L445.39,98.86 L445.90,98.90 L446.40,98.93 L446.90,98.96 L447.40,98.99 L447.90,99.03 L448.40,99.06 L448.90,99.09" stroke="#0000ff" stroke-dasharray="6.45 2.84" stroke-dashoffset="0.84"/>
<path d="M77.40,9.00 L77.50,9.08 L77.60,9.30 L77.70,9.65 L77.80,10.12 L77.90,10.67 L78.00,11.28 L78.10,11.93 L78.20,12.60 L78.30,13.29 L78.40,13.97 L78.50,14.64 L78.60,15.31 L78.70,15.95 L78.80,16.58 L78.90,17.19 L79.00,17.78 L79.10,18.36 L79.20,18.91 L79.30,19.44 L79.40,19.96 L79.50,20.46 L79.60,20.95 L79.70,21.41 L79.80,21.87 L79.90,22.31 L80.00,22.73 L80.10,23.15 L80.20,23.55 L80.30,23.94 L80.40,24.32 L80.50,24.69 L80.60,25.05 L80.70,25.39 L80.80,25.73 L80.90,26.07 L81.00,26.39 L81.10,26.70 L81.20,27.01 L81.30,27.31 L81.40,27.61 L81.50,27.89 L81.60,28.18 L81.70,28.45 L81.80,28.72 L81.90,28.98 L82.00,29.24 L82.10,29.49 L82.20,29.74 L82.30,29.99 L82.40,30.22 L82.50,30.46 L82.60,30.69 L82.70,30.91 L82.80,31.14 L82.90,31.35 L83.00,31.57 L83.10,31.78 L83.20,31.99 L83.30,32.19 L83.40,32.39 L83.60,32.78 L83.80,33.16 L84.00,33.53 L84.20,33.89 L84.40,34.24 L84.60,34.58 L84.80,34.90 L85.00,35.23 L85.20,35.54 L85.40,35.84 L85.60,36.14 L85.80,36.43 L86.00,36.71 L86.20,36.99 L86.40,37.26 L86.60,37.53 L86.80,37.79 L87.00,38.04 L87.20,38.29 L87.40,38.54 L87.60,38.78 L87.80,39.01 L88.00,39.24 L88.20,39.47 L88.40,39.69 L88.60,39.91 L88.80,40.13 L89.00,40.34 L89.20,40.54 L89.40,40.75 L89.60,40.95 L89.80,41.15 L90.00,41.34 L90.20,41.53 L90.40,41.72 L90.60,41.90 L90.80,42.09 L91.00,42.27 L91.20,42.44 L91.40,42.62 L91.60,42.79 L91.80,42.96 L92.00,43.13 L92.20,43.29 L92.40,43.46 L92.60,43.62 L92.80,43.78 L93.00,43.93 L93.20,44.09 L93.40,44.24 L93.60,44.39 L93.80,44.54 L94.00,44.69 L94.20,44.84 L94.40,44.98 L94.60,45.12 L94.80,45.26 L95.00,45.40 L95.20,45.54 L95.40,45.68 L95.60,45.81 L95.80,45.94 L96.00,46.07 L96.20,46.20 L96.40,46.33 L96.60,46.46 L96.80,46.59 L97.00,46.71 L97.20,46.84 L97.40,46.96 L97.60,47.08 L97.80,47.20 L98.00,47.32 L98.20,47.44 L98.40,47.55 L98.60,47.67 L98.80,47.78 L99.00,47.89 L99.20,48.01 L99.40,48.12 L99.60,48.23 L99.80,48.34 L100.00,48.45 L100.20,48.55 L100.40,48.66 L100.60,48.77 L100.80,48.87 L101.00,48.97 L101.20,49.08 L101.40,49.18 L101.60,49.28 L101.80,49.38 L102.00,49.48 L102.20,49.58 L102.40,49.68 L102.60,49.77 L102.80,49.87 L103.00,49.96 L103.20,50.06 L103.40,50.15 L103.60,50.25 L103.80,50.34 L104.00,50.43 L104.20,50.52 L104.40,50.61 L104.60,50.70 L104.80,50.79 L105.00,50.88 L105.20,50.97 L105.40,51.06 L105.60,51.14 L105.80,51.23 L106.00,51.31 L106.20,51.40 L106.40,51.48 L106.60,51.57 L106.80,51.65 L107.00,51.73 L107.20,51.82 L107.40,51.90 L107.60,51.98 L107.80,52.06 L108.00,52.14 L108.20,52.22 L108.40,52.30 L108.60,52.38 L108.80,52.45 L109.00,52.53 L109.20,52.61 L109.40,52.68 L109.60,52.76 L109.80,52.84 L110.00,52.91 L110.20,52.99 L110.40,53.06 L110.60,53.13 L110.80,53.21 L111.00,53.28 L111.20,53.35 L111.40,53.42 L111.60,53.49 L111.80,53.57 L112.00,53.64 L112.20,53.71 L112.40,53.78 L112.60,53.85 L112.80,53.92 L113.00,53.98 L113.20,54.05 L113.40,54.12 L113.60,54.19 L113.80,54.25 L114.00,54.32 L114.20,54.39 L114.40,54.45 L114.60,54.52 L114.80,54.59 L115.00,54.65 L115.20,54.71 L115.40,54.78 L115.60,54.84 L115.80,54.91 L116.00,54.97 L116.20,55.03 L116.40,55.10 L116.60,55.16 L116.80,55.22 L117.00,55.28 L117.20,55.34 L117.40,55.40 L117.90,55.56 L118.40,55.71 L118.90,55.85 L119.40,56.00 L119.90,56.14 L120.40,56.29 L120.90,56.43 L121.41,56.57 L121.91,56.71 L122.41,56.84 L122.91,56.98 L123.41,57.11 L123.91,57.24 L124.41,57.37 L124.91,57.50 L125.41,57.63 L125.91,57.76 L126.41,57.88 L126.91,58.01 L127.41,58.13 L127.92,58.25 L128.42,58.37 L128.92,58.49 L129.42,58.61 L129.92,58.72 L130.42,58.84 L130.92,58.96 L131.42,59.07 L131.92,59.18 L132.42,59.29 L132.92,59.40 L133.42,59.51 L133.92,59.62 L134.42,59.73 L134.93,59.84 L135.43,59.94 L135.93,60.05 L136.43,60.15 L136.93,60.25 L137.43,60.36 L137.93,60.46 L138.43,60.56 L138.93,60.66 L139.43,60.76 L139.93,60.85 L140.43,60.95 L140.93,61.05 L141.44,61.14 L141.94,61.24 L142.44,61.33 L142.94,61.43 L143.44,61.52 L143.94,61.61 L144.44,61.70 L144.94,61.79 L145.44,61.88 L145.94,61.97 L146.44,62.06 L146.94,62.15 L147.44,62.24 L147.95,62.32 L148.45,62.41 L148.95,62.50 L149.45,62.58 L149.95,62.67 L150.45,62.75 L150.95,62.83 L151.45,62.92 L151.95,63.00 L152.45,63.08 L152.95,63.16 L153.45,63.24 L153.95,63.32 L154.46,63.40 L154.96,63.48 L155.46,63.56 L155.96,63.64 L156.46,63.71 L156.96,63.79 L157.46,63.87 L157.96,63.94 L158.46,64.02 L158.96,64.09 L159.46,64.17 L159.96,64.24 L160.46,64.32 L160.97,64.39 L161.47,64.46 L161.97,64.54 L162.47,64.61 L162.97,64.68 L163.47,64.75 L163.97,64.82 L164.47,64.89 L164.97,64.96 L165.47,65.03 L165.97,65.10 L166.47,65.17 L166.97,65.24 L167.47,65.31 L167.98,65.37 L168.48,65.44 L168.98,65.51 L169.48,65.57 L169.98,65.64 L170.48,65.71 L170.98,65.77 L171.48,65.84 L171.98,65.90 L172.48,65.97 L172.98,66.03 L173.48,66.09 L173.98,66.16 L174.49,66.22 L174.99,66.28 L175.49,66.34 L175.99,66.41 L176.49,66.47 L176.99,66.53 L177.49,66.59 L177.99,66.65 L178.49,66.71 L178.99,66.77 L179.49,66.83 L179.99,66.89 L180.49,66.95 L181.00,67.01 L181.50,67.07 L182.00,67.13 L182.50,67.19 L183.00,67.24 L183.50,67.30 L184.00,67.36 L184.50,67.42 L185.00,67.47 L185.50,67.53 L186.00,67.59 L186.50,67.64 L187.00,67.70 L187.51,67.75 L188.01,67.81 L188.51,67.86 L189.01,67.92 L189.51,67.97 L190.01,68.03 L190.51,68.08 L191.01,68.14 L191.51,68.19 L192.01,68.24 L192.51,68.30 L193.01,68.35 L193.51,68.40 L194.01,68.46 L194.52,68.51 L195.02,68.56 L195.52,68.61 L196.02,68.66 L196.52,68.71 L197.02,68.77 L197.52,68.82 L198.02,68.87 L198.52,68.92 L199.02,68.97 L199.52,69.02 L200.02,69.07 L200.52,69.12 L201.03,69.17 L201.53,69.22 L202.03,69.27 L202.53,69.31 L203.03,69.36 L203.53,69.41 L204.03,69.46 L204.53,69.51 L205.03,69.56 L205.53,69.60 L206.03,69.65 L206.53,69.70 L207.03,69.75 L207.54,69.79 L208.04,69.84 L208.54,69.89 L209.04,69.93 L209.54,69.98 L210.04,70.03 L210.54,70.07 L211.04,70.12 L211.54,70.16 L212.04,70.21 L212.54,70.25 L213.04,70.30 L213.54,70.34 L214.05,70.39 L214.55,70.43 L215.05,70.48 L215.55,70.52 L216.05,70.57 L216.55,70.61 L217.05,70.65 L217.55,70.70 L218.05,70.74 L218.55,70.78 L219.05,70.83 L219.55,70.87 L220.05,70.91 L220.56,70.96 L221.06,71.00 L221.56,71.04 L222.06,71.08 L222.56,71.13 L223.06,71.17 L223.56,71.21 L224.06,71.25 L224.56,71.29 L225.06,71.33 L225.56,71.38 L226.06,71.42 L226.56,71.46 L227.06,71.50 L227.57,71.54 L228.07,71.58 L228.57,71.62 L229.07,71.66 L229.57,71.70 L230.07,71.74 L230.57,71.78 L231.07,71.82 L231.57,71.86 L232.07,71.90 L232.57,71.94 L233.07,71.98 L233.57,72.02 L234.08,72.06 L234.58,72.10 L235.08,72.14 L235.58,72.17 L236.08,72.21 L236.58,72.25 L237.08,72.29 L237.58,72.33 L238.08,72.37 L238.58,72.40 L239.08,72.44 L239.58,72.48 L240.08,72.52 L240.59,72.55 L241.09,72.59 L241.59,72.63 L242.09,72.67 L242.59,72.70 L243.09,72.74 L243.59,72.78 L244.09,72.81 L244.59,72.85 L245.09,72.89 L245.59,72.92 L246.09,72.96 L246.59,73.00 L247.10,73.03 L247.60,73.07 L248.10,73.10 L248.60,73.14 L249.10,73.17 L249.60,73.21 L250.10,73.25 L250.60,73.28 L251.10,73.32 L251.60,73.35 L252.10,73.39 L252.60,73.42 L253.10,73.46 L253.60,73.49 L254.11,73.53 L254.61,73.56 L255.11,73.59 L255.61,73.63 L256.11,73.66 L256.61,73.70 L257.11,73.73 L257.61,73.76 L258.11,73.80 L258.61,73.83 L259.11,73.87 L259.61,73.90 L260.11,73.93 L260.62,73.97 L261.12,74.00 L261.62,74.03 L262.12,74.07 L262.62,74.10 L263.12,74.14 L263.62,74.17 L264.12,74.20 L264.62,74.24 L265.12,74.27 L265.62,74.31 L266.12,74.34 L266.62,74.38 L267.13,74.41 L267.63,74.44 L268.13,74.48 L268.63,74.51 L269.13,74.55 L269.63,74.58 L270.13,74.62 L270.63,74.65 L271.13,74.69 L271.63,74.72 L272.13,74.76 L272.63,74.79 L273.13,74.82 L273.64,74.86 L274.14,74.89 L274.64,74.93 L275.14,74.96 L275.64,75.00 L276.14,75.03 L276.64,75.07 L277.14,75.10 L277.64,75.13 L278.14,75.17 L278.64,75.20 L279.14,75.24 L279.64,75.27 L280.15,75.30 L280.65,75.34 L281.15,75.37 L281.65,75.41 L282.15,75.44 L282.65,75.47 L283.15,75.51 L283.65,75.54 L284.15,75.58 L284.65,75.61 L285.15,75.65 L285.65,75.68 L286.15,75.72 L286.65,75.75 L287.16,75.79 L287.66,75.82 L288.16,75.86 L288.66,75.90 L289.16,75.93 L289.66,75.97 L290.16,76.00 L290.66,76.04 L291.16,76.07 L291.66,76.11 L292.16,76.15 L292.66,76.18 L293.16,76.22 L293.67,76.25 L294.17,76.29 L294.67,76.33 L295.17,76.36 L295.67,76.40 L296.17,76.43 L296.67,76.47 L297.17,76.51 L297.67,76.54 L298.17,76.58 L298.67,76.61 L299.17,76.65 L299.67,76.69 L300.18,76.72 L300.68,76.76 L301.18,76.79 L301.68,76.83 L302.18,76.86 L302.68,76.90 L303.18,76.94 L303.68,76.97 L304.18,77.01 L304.68,77.04 L305.18,77.08 L305.68,77.11 L306.18,77.15 L306.69,77.18 L307.19,77.22 L307.69,77.25 L308.19,77.29 L308.69,77.32 L309.19,77.35 L309.69,77.39 L310.19,77.42 L310.69,77.46 L311.19,77.49 L311.69,77.53 L312.19,77.56 L312.69,77.59 L313.20,77.63 L313.70,77.66 L314.20,77.70 L314.70,77.73 L315.20,77.77 L315.70,77.80 L316.20,77.83 L316.70,77.87 L317.20,77.90 L317.70,77.94 L318.20,77.97 L318.70,78.00 L319.20,78.04 L319.70,78.07 L320.21,78.11 L320.71,78.14 L321.21,78.18 L321.71,78.21 L322.21,78.24 L322.71,78.28 L323.21,78.31 L323.71,78.34 L324.21,78.38 L324.71,78.41 L325.21,78.45 L325.71,78.48 L326.21,78.51 L326.72,78.55 L327.22,78.58 L327.72,78.62 L328.22,78.65 L328.72,78.68 L329.22,78.72 L329.72,78.75 L330.22,78.78 L330.72,78.82 L331.22,78.85 L331.72,78.88 L332.22,78.92 L332.72,78.95 L333.23,78.99 L333.73,79.02 L334.23,79.05 L334.73,79.09 L335.23,79.12 L335.73,79.15 L336.23,79.19 L336.73,79.22 L337.23,79.25 L337.73,79.29 L338.23,79.32 L338.73,79.35 L339.23,79.39 L339.74,79.42 L340.24,79.46 L340.74,79.49 L341.24,79.52 L341.74,79.56 L342.24,79.59 L342.74,79.63 L343.24,79.66 L343.74,79.69 L344.24,79.73 L344.74,79.76 L345.24,79.80 L345.74,79.83 L346.24,79.87 L346.75,79.90 L347.25,79.93 L347.75,79.97 L348.25,80.00 L348.75,80.04 L349.25,80.07 L349.75,80.10 L350.25,80.14 L350.75,80.17 L351.25,80.20 L351.75,80.24 L352.25,80.27 L352.75,80.31 L353.26,80.34 L353.76,80.37 L354.26,80.41 L354.76,80.44 L355.26,80.47 L355.76,80.50 L356.26,80.54 L356.76,80.57 L357.26,80.60 L357.76,80.64 L358.26,80.67 L358.76,80.70 L359.26,80.73 L359.77,80.76 L360.27,80.79 L360.77,80.83 L361.27,80.86 L361.77,80.89 L362.27,80.92 L362.77,80.95 L363.27,80.98 L363.77,81.01 L364.27,81.04 L364.77,81.07 L365.27,81.10 L365.77,81.13 L366.28,81.16 L366.78,81.19 L367.28,81.22 L367.78,81.25 L368.28,81.28 L368.78,81.30 L369.28,81.33 L369.78,81.36 L370.28,81.39 L370.78,81.42 L371.28,81.45 L371.78,81.47 L372.28,81.50 L372.79,81.53 L373.29,81.56 L373.79,81.58 L374.29,81.61 L374.79,81.64 L375.29,81.67 L375.79,81.69 L376.29,81.72 L376.79,81.75 L377.29,81.77 L377.79,81.80 L378.29,81.83 L378.79,81.86 L379.29,81.88 L379.80,81.91 L380.30,81.94 L380.80,81.96 L381.30,81.99 L381.80,82.02 L382.30,82.04 L382.80,82.07 L383.30,82.10 L383.80,82.12 L384.30,82.15 L384.80,82.17 L385.30,82.20 L385.80,82.23 L386.31,82.25 L386.81,82.28 L387.31,82.31 L387.81,82.33 L388.31,82.36 L388.81,82.39 L389.31,82.41 L389.81,82.44 L390.31,82.47 L390.81,82.50 L391.31,82.52 L391.81,82.55 L392.31,82.58 L392.82,82.60 L393.32,82.63 L393.82,82.66 L394.32,82.69 L394.82,82.71 L395.32,82.74 L395.82,82.77 L396.32,82.80 L396.82,82.83 L397.32,82.85 L397.82,82.88 L398.32,82.91 L398.82,82.94 L399.33,82.97 L399.83,83.00 L400.33,83.03 L400.83,83.06 L401.33,83.09 L401.83,83.12 L402.33,83.15 L402.83,83.18 L403.33,83.21 L403.83,83.24 L404.33,83.27 L404.83,83.30 L405.33,83.33 L405.83,83.36 L406.34,83.39 L406.84,83.42 L407.34,83.45 L407.84,83.48 L408.34,83.52 L408.84,83.55 L409.34,83.58 L409.84,83.61 L410.34,83.64 L410.84,83.67 L411.34,83.71 L411.84,83.74 L412.34,83.77 L412.85,83.80 L413.35,83.83 L413.85,83.87 L414.35,83.90 L414.85,83.93 L415.35,83.96 L415.85,83.99 L416.35,84.02 L416.85,84.06 L417.35,84.09 L417.85,84.12 L418.35,84.15 L418.85,84.18 L419.36,84.21 L419.86,84.24 L420.36,84.27 L420.86,84.31 L421.36,84.34 L421.86,84.37 L422.36,84.40 L422.86,84.43 L423.36,84.46 L423.86,84.49 L424.36,84.52 L424.86,84.55 L425.36,84.58 L425.87,84.61 L426.37,84.64 L426.87,84.66 L427.37,84.69 L427.87,84.72 L428.37,84.75 L428.87,84.78 L429.37,84.81 L429.87,84.84 L430.37,84.87 L430.87,84.90 L431.37,84.92 L431.87,84.95 L432.38,84.98 L432.88,85.01 L433.38,85.04 L433.88,85.07 L434.38,85.09 L434.88,85.12 L435.38,85.15 L435.88,85.18 L436.38,85.21 L436.88,85.24 L437.38,85.26 L437.88,85.29 L438.38,85.32 L438.88,85.35 L439.39,85.37 L439.89,85.40 L440.39,85.43 L440.89,85.46 L441.39,85.49 L441.89,85.51 L442.39,85.54 L442.89,85.57 L443.39,85.59 L443.89,85.62 L444.39,85.65 L444.89,85.68 L445.39,85.70 L445.90,85.73 L446.40,85.76 L446.90,85.78 L447.40,85.81 L447.90,85.84 L448.40,85.86 L448.90,85.89" stroke="#ff8000"/>
<path d="M77.40,9.00 L77.50,9.08 L77.60,9.30 L77.70,9.65 L77.80,10.12 L77.90,10.67 L78.00,11.28 L78.10,11.93 L78.20,12.60 L78.30,13.29 L78.40,13.97 L78.50,14.64 L78.60,15.31 L78.70,15.95 L78.80,16.58 L78.90,17.19 L79.00,17.78 L79.10,18.36 L79.20,18.91 L79.30,19.44 L79.40,19.96 L79.50,20.46 L79.60,20.95 L79.70,21.41 L79.80,21.87 L79.90,22.31 L80.00,22.73 L80.10,23.15 L80.20,23.55 L80.30,23.94 L80.40,24.32 L80.50,24.69 L80.60,25.05 L80.70,25.39 L80.80,25.73 L80.90,26.07 L81.00,26.39 L81.10,26.70 L81.20,27.01 L81.30,27.31 L81.40,27.61 L81.50,27.89 L81.60,28.18 L81.70,28.45 L81.80,28.72 L81.90,28.98 L82.00,29.24 L82.10,29.49 L82.20,29.74 L82.30,29.99 L82.40,30.22 L82.50,30.46 L82.60,30.69 L82.70,30.91 L82.80,31.14 L82.90,31.35 L83.00,31.57 L83.10,31.78 L83.20,31.99 L83.30,32.19 L83.40,32.39 L83.60,32.78 L83.80,33.16 L84.00,33.53 L84.20,33.89 L84.40,34.24 L84.60,34.58 L84.80,34.90 L85.00,35.23 L85.20,35.54 L85.40,35.84 L85.60,36.14 L85.80,36.43 L86.00,36.71 L86.20,36.99 L86.40,37.26 L86.60,37.53 L86.80,37.79 L87.00,38.04 L87.20,38.29 L87.40,38.54 L87.60,38.78 L87.80,39.01 L88.00,39.24 L88.20,39.47 L88.40,39.69 L88.60,39.91 L88.80,40.13 L89.00,40.34 L89.20,40.54 L89.40,40.75 L89.60,40.95 L89.80,41.15 L90.00,41.34 L90.20,41.53 L90.40,41.72 L90.60,41.90 L90.80,42.09 L91.00,42.27 L91.20,42.44 L91.40,42.62 L91.60,42.79 L91.80,42.96 L92.00,43.13 L92.20,43.29 L92.40,43.46 L92.60,43.62 L92.80,43.78 L93.00,43.93 L93.20,44.09 L93.40,44.24 L93.60,44.39 L93.80,44.54 L94.00,44.69 L94.20,44.84 L94.40,44.98 L94.60,45.12 L94.80,45.26 L95.00,45.40 L95.20,45.54 L95.40,45.68 L95.60,45.81 L95.80,45.94 L96.00,46.07 L96.20,46.20 L96.40,46.33 L96.60,46.46 L96.80,46.59 L97.00,46.71 L97.20,46.84 L97.40,46.96 L97.60,47.08 L97.80,47.20 L98.00,47.32 L98.20,47.44 L98.40,47.55 L98.60,47.67 L98.80,47.78 L99.00,47.89 L99.20,48.01 L99.40,48.12 L99.60,48.23 L99.80,48.34 L100.00,48.45 L100.20,48.55 L100.40,48.66 L100.60,48.77 L100.80,48.87 L101.00,48.97 L101.20,49.08 L101.40,49.18 L101.60,49.28 L101.80,49.38 L102.00,49.48 L102.20,49.58 L102.40,49.68 L102.60,49.77 L102.80,49.87 L103.00,49.96 L103.20,50.06 L103.40,50.15 L103.60,50.25 L103.80,50.34 L104.00,50.43 L104.20,50.52 L104.40,50.61 L104.60,50.70 L104.80,50.79 L105.00,50.88 L105.20,50.97 L105.40,51.06 L105.60,51.14 L105.80,51.23 L106.00,51.31 L106.20,51.40 L106.40,51.48 L106.60,51.57 L106.80,51.65 L107.00,51.73 L107.20,51.82 L107.40,51.90 L107.60,51.98 L107.80,52.06 L108.00,52.14 L108.20,52.22 L108.40,52.30 L108.60,52.38 L108.80,52.45 L109.00,52.53 L109.20,52.61 L109.40,52.68 L109.60,52.76 L109.80,52.84 L110.00,52.91 L110.20,52.99 L110.40,53.06 L110.60,53.13 L110.80,53.21 L111.00,53.28 L111.20,53.35 L111.40,53.42 L111.60,53.49 L111.80,53.57 L112.00,53.64 L112.20,53.71 L112.40,53.78 L112.60,53.85 L112.80,53.92 L113.00,53.98 L113.20,54.05 L113.40,54.12 L113.60,54.19 L113.80,54.25 L114.00,54.32 L114.20,54.39 L114.40,54.45 L114.60,54.52 L114.80,54.59 L115.00,54.65 L115.20,54.71 L115.40,54.78 L115.60,54.84 L115.80,54.91 L116.00,54.97 L116.20,55.03 L116.40,55.10 L116.60,55.16 L116.80,55.22 L117.00,55.28 L117.20,55.34 L117.40,55.40 L117.90,55.56 L118.40,55.71 L118.90,55.85 L119.40,56.00 L119.90,56.14 L120.40,56.29 L120.90,56.43 L121.41,56.57 L121.91,56.71 L122.41,56.84 L122.91,56.98 L123.41,57.11 L123.91,57.24 L124.41,57.37 L124.91,57.50 L125.41,57.63 L125.91,57.76 L126.41,57.88 L126.91,58.01 L127.41,58.13 L127.92,58.25 L128.42,58.37 L128.92,58.49 L129.42,58.61 L129.92,58.72 L130.42,58.84 L130.92,58.96 L131.42,59.07 L131.92,59.18 L132.42,59.29 L132.92,59.40 L133.42,59.51 L133.92,59.62 L134.42,59.73 L134.93,59.84 L135.43,59.94 L135.93,60.05 L136.43,60.15 L136.93,60.25 L137.43,60.36 L137.93,60.46 L138.43,60.56 L138.93,60.66 L139.43,60.76 L139.93,60.85 L140.43,60.95 L140.93,61.05 L141.44,61.14 L141.94,61.24 L142.44,61.33 L142.94,61.43 L143.44,61.52 L143.94,61.61 L144.44,61.70 L144.94,61.79 L145.44,61.88 L145.94,61.97 L146.44,62.06 L146.94,62.15 L147.44,62.24 L147.95,62.32 L148.45,62.41 L148.95,62.50 L149.45,62.58 L149.95,62.67 L150.45,62.75 L150.95,62.83 L151.45,62.92 L151.95,63.00 L152.45,63.08 L152.95,63.16 L153.45,63.24 L153.95,63.32 L154.46,63.40 L154.96,63.48 L155.46,63.56 L155.96,63.64 L156.46,63.71 L156.96,63.79 L157.46,63.87 L157.96,63.94 L158.46,64.02 L158.96,64.09 L159.46,64.17 L159.96,64.24 L160.46,64.32 L160.97,64.39 L161.47,64.46 L161.97,64.54 L162.47,64.61 L162.97,64.68 L163.47,64.75 L163.97,64.82 L164.47,64.89 L164.97,64.96 L165.47,65.03 L165.97,65.10 L166.47,65.17 L166.97,65.24 L167.47,65.31 L167.98,65.37 L168.48,65.44 L168.98,65.51 L169.48,65.57 L169.98,65.64 L170.48,65.71 L170.98,65.77 L171.48,65.84 L171.98,65.90 L172.48,65.97 L172.98,66.03 L173.48,66.09 L173.98,66.16 L174.49,66.22 L174.99,66.28 L175.49,66.34 L175.99,66.41 L176.49,66.47 L176.99,66.53 L177.49,66.59 L177.99,66.65 L178.49,66.71 L178.99,66.77 L179.49,66.83 L179.99,66.89 L180.49,66.95 L181.00,67.01 L181.50,67.07 L182.00,67.13 L182.50,67.19 L183.00,67.24 L183.50,67.30 L184.00,67.36 L184.50,67.42 L185.00,67.47 L185.50,67.53 L186.00,67.59 L186.50,67.64 L187.00,67.70 L187.51,67.75 L188.01,67.81 L188.51,67.86 L189.01,67.92 L189.51,67.97 L190.01,68.03 L190.51,68.08 L191.01,68.14 L191.51,68.19 L192.01,68.24 L192.51,68.30 L193.01,68.35 L193.51,68.40 L194.01,68.46 L194.52,68.51 L195.02,68.56 L195.52,68.61 L196.02,68.66 L196.52,68.71 L197.02,68.77 L197.52,68.82 L198.02,68.87 L198.52,68.92 L199.02,68.97 L199.52,69.02 L200.02,69.07 L200.52,69.12 L201.03,69.17 L201.53,69.22 L202.03,69.27 L202.53,69.31 L203.03,69.36 L203.53,69.41 L204.03,69.46 L204.53,69.51 L205.03,69.56 L205.53,69.60 L206.03,69.65 L206.53,69.70 L207.03,69.75 L207.54,69.79 L208.04,69.84 L208.54,69.89 L209.04,69.93 L209.54,69.98 L210.04,70.03 L210.54,70.07 L211.04,70.12 L211.54,70.16 L212.04,70.21 L212.54,70.25 L213.04,70.30 L213.54,70.34 L214.05,70.39 L214.55,70.43 L215.05,70.48 L215.55,70.52 L216.05,70.57 L216.55,70.61 L217.05,70.65 L217.55,70.70 L218.05,70.74 L218.55,70.78 L219.05,70.83 L219.55,70.87 L220.05,70.91 L220.56,70.96 L221.06,71.00 L221.56,71.04 L222.06,71.08 L222.56,71.13 L223.06,71.17 L223.56,71.21 L224.06,71.25 L224.56,71.29 L225.06,71.33 L225.56,71.38 L226.06,71.42 L226.56,71.46 L227.06,71.50 L227.57,71.54 L228.07,71.58 L228.57,71.62 L229.07,71.66 L229.57,71.70 L230.07,71.74 L230.57,71.78 L231.07,71.82 L231.57,71.86 L232.07,71.90 L232.57,71.94 L233.07,71.98 L233.57,72.02 L234.08,72.06 L234.58,72.10 L235.08,72.14 L235.58,72.17 L236.08,72.21 L236.58,72.25 L237.08,72.29 L237.58,72.33 L238.08,72.37 L238.58,72.40 L239.08,72.44 L239.58,72.48 L240.08,72.52 L240.59,72.55 L241.09,72.59 L241.59,72.63 L242.09,72.67 L242.59,72.70 L243.09,72.74 L243.59,72.78 L244.09,72.81 L244.59,72.85 L245.09,72.89 L245.59,72.92 L246.09,72.96 L246.59,73.00 L247.10,73.03 L247.60,73.07 L248.10,73.10 L248.60,73.14 L249.10,73.17 L249.60,73.21 L250.10,73.25 L250.60,73.28 L251.10,73.32 L251.60,73.35 L252.10,73.39 L252.60,73.42 L253.10,73.46 L253.60,73.49 L254.11,73.53 L254.61,73.56 L255.11,73.59 L255.61,73.63 L256.11,73.66 L256.61,73.70 L257.11,73.73 L257.61,73.76 L258.11,73.80 L258.61,73.83 L259.11,73.87 L259.61,73.90 L260.11,73.93 L260.62,73.97 L261.12,74.00 L261.62,74.03 L262.12,74.07 L262.62,74.10 L263.12,74.13 L263.62,74.16 L264.12,74.20 L264.62,74.23 L265.12,74.26 L265.62,74.30 L266.12,74.33 L266.62,74.36 L267.13,74.39 L267.63,74.42 L268.13,74.46 L268.63,74.49 L269.13,74.52 L269.63,74.55 L270.13,74.58 L270.63,74.62 L271.13,74.65 L271.63,74.68 L272.13,74.71 L272.63,74.74 L273.13,74.77 L273.64,74.80 L274.14,74.84 L274.64,74.87 L275.14,74.90 L275.64,74.93 L276.14,74.96 L276.64,74.99 L277.14,75.02 L277.64,75.05 L278.14,75.08 L278.64,75.11 L279.14,75.14 L279.64,75.17 L280.15,75.20 L280.65,75.23 L281.15,75.26 L281.65,75.29 L282.15,75.32 L282.65,75.35 L283.15,75.38 L283.65,75.41 L284.15,75.44 L284.65,75.47 L285.15,75.50 L285.65,75.53 L286.15,75.56 L286.65,75.59 L287.16,75.62 L287.66,75.65 L288.16,75.67 L288.66,75.70 L289.16,75.73 L289.66,75.76 L290.16,75.79 L290.66,75.82 L291.16,75.85 L291.66,75.88 L292.16,75.90 L292.66,75.93 L293.16,75.96 L293.67,75.99 L294.17,76.02 L294.67,76.05 L295.17,76.07 L295.67,76.10 L296.17,76.13 L296.67,76.16 L297.17,76.19 L297.67,76.21 L298.17,76.24 L298.67,76.27 L299.17,76.30 L299.67,76.32 L300.18,76.35 L300.68,76.38 L301.18,76.41 L301.68,76.43 L302.18,76.46 L302.68,76.49 L303.18,76.51 L303.68,76.54 L304.18,76.57 L304.68,76.60 L305.18,76.62 L305.68,76.65 L306.18,76.68 L306.69,76.70 L307.19,76.73 L307.69,76.76 L308.19,76.78 L308.69,76.81 L309.19,76.84 L309.69,76.86 L310.19,76.89 L310.69,76.91 L311.19,76.94 L311.69,76.97 L312.19,76.99 L312.69,77.02 L313.20,77.04 L313.70,77.07 L314.20,77.10 L314.70,77.12 L315.20,77.15 L315.70,77.17 L316.20,77.20 L316.70,77.22 L317.20,77.25 L317.70,77.28 L318.20,77.30 L318.70,77.33 L319.20,77.35 L319.70,77.38 L320.21,77.40 L320.71,77.43 L321.21,77.45 L321.71,77.48 L322.21,77.50 L322.71,77.53 L323.21,77.55 L323.71,77.58 L324.21,77.60 L324.71,77.63 L325.21,77.65 L325.71,77.68 L326.21,77.70 L326.72,77.72 L327.22,77.75 L327.72,77.77 L328.22,77.80 L328.72,77.82 L329.22,77.85 L329.72,77.87 L330.22,77.89 L330.72,77.92 L331.22,77.94 L331.72,77.97 L332.22,77.99 L332.72,78.02 L333.23,78.04 L333.73,78.06 L334.23,78.09 L334.73,78.11 L335.23,78.13 L335.73,78.16 L336.23,78.18 L336.73,78.20 L337.23,78.23 L337.73,78.25 L338.23,78.28 L338.73,78.30 L339.23,78.32 L339.74,78.35 L340.24,78.37 L340.74,78.39 L341.24,78.42 L341.74,78.44 L342.24,78.46 L342.74,78.48 L343.24,78.51 L343.74,78.53 L344.24,78.55 L344.74,78.58 L345.24,78.60 L345.74,78.62 L346.24,78.64 L346.75,78.67 L347.25,78.69 L347.75,78.71 L348.25,78.74 L348.75,78.76 L349.25,78.78 L349.75,78.80 L350.25,78.82 L350.75,78.85 L351.25,78.87 L351.75,78.89 L352.25,78.91 L352.75,78.94 L353.26,78.96 L353.76,78.98 L354.26,79.00 L354.76,79.02 L355.26,79.05 L355.76,79.07 L356.26,79.09 L356.76,79.11 L357.26,79.13 L357.76,79.16 L358.26,79.18 L358.76,79.20 L359.26,79.22 L359.77,79.24 L360.27,79.26 L360.77,79.29 L361.27,79.31 L361.77,79.33 L362.27,79.35 L362.77,79.37 L363.27,79.39 L363.77,79.41 L364.27,79.44 L364.77,79.46 L365.27,79.48 L365.77,79.50 L366.28,79.52 L366.78,79.54 L367.28,79.56 L367.78,79.58 L368.28,79.61 L368.78,79.63 L369.28,79.65 L369.78,79.67 L370.28,79.69 L370.78,79.71 L371.28,79.73 L371.78,79.75 L372.28,79.77 L372.79,79.79 L373.29,79.81 L373.79,79.83 L374.29,79.85 L374.79,79.88 L375.29,79.90 L375.79,79.92 L376.29,79.94 L376.79,79.96 L377.29,79.98 L377.79,80.00 L378.29,80.02 L378.79,80.04 L379.29,80.06 L379.80,80.08 L380.30,80.10 L380.80,80.12 L381.30,80.14 L381.80,80.16 L382.30,80.18 L382.80,80.20 L383.30,80.22 L383.80,80.24 L384.30,80.26 L384.80,80.28 L385.30,80.30 L385.80,80.32 L386.31,80.34 L386.81,80.36 L387.31,80.38 L387.81,80.40 L388.31,80.42 L388.81,80.44 L389.31,80.46 L389.81,80.48 L390.31,80.50 L390.81,80.52 L391.31,80.54 L391.81,80.55 L392.31,80.57 L392.82,80.59 L393.32,80.61 L393.82,80.63 L394.32,80.65 L394.82,80.67 L395.32,80.69 L395.82,80.71 L396.32,80.73 L396.82,80.75 L397.32,80.77 L397.82,80.79 L398.32,80.80 L398.82,80.82 L399.33,80.84 L399.83,80.86 L400.33,80.88 L400.83,80.90 L401.33,80.92 L401.83,80.94 L402.33,80.96 L402.83,80.97 L403.33,80.99 L403.83,81.01 L404.33,81.03 L404.83,81.05 L405.33,81.07 L405.83,81.09 L406.34,81.11 L406.84,81.12 L407.34,81.14 L407.84,81.16 L408.34,81.18 L408.84,81.20 L409.34,81.22 L409.84,81.23 L410.34,81.25 L410.84,81.27 L411.34,81.29 L411.84,81.31 L412.34,81.33 L412.85,81.34 L413.35,81.36 L413.85,81.38 L414.35,81.40 L414.85,81.42 L415.35,81.44 L415.85,81.45 L416.35,81.47 L416.85,81.49 L417.35,81.51 L417.85,81.53 L418.35,81.54 L418.85,81.56 L419.36,81.58 L419.86,81.60 L420.36,81.61 L420.86,81.63 L421.36,81.65 L421.86,81.67 L422.36,81.69 L422.86,81.70 L423.36,81.72 L423.86,81.74 L424.36,81.76 L424.86,81.77 L425.36,81.79 L425.87,81.81 L426.37,81.83 L426.87,81.84 L427.37,81.86 L427.87,81.88 L428.37,81.90 L428.87,81.91 L429.37,81.93 L429.87,81.95 L430.37,81.97 L430.87,81.98 L431.37,82.00 L431.87,82.02 L432.38,82.03 L432.88,82.05 L433.38,82.07 L433.88,82.09 L434.38,82.10 L434.88,82.12 L435.38,82.14 L435.88,82.15 L436.38,82.17 L436.88,82.19 L437.38,82.21 L437.88,82.22 L438.38,82.24 L438.88,82.26 L439.39,82.27 L439.89,82.29 L440.39,82.31 L440.89,82.32 L441.39,82.34 L441.89,82.36 L442.39,82.37 L442.89,82.39 L443.39,82.41 L443.89,82.42 L444.39,82.44 L444.89,82.46 L445.39,82.47 L445.90,82.49 L446.40,82.51 L446.90,82.52 L447.40,82.54 L447.90,82.56 L448.40,82.57 L448.90,82.59" stroke="#00ff00" stroke-dasharray="7.07 2.42 3.23 2.42" stroke-dashoffset="11.03"/>
</g>
<path d="M77.40,236.44 h1.7 M448.90,236.44 h-1.7 M77.40,235.01 h1.7 M448.90,235.01 h-1.7 M77.40,233.72 h1.7 M448.90,233.72 h-1.7 M77.40,225.26 h1.7 M448.90,225.26 h-1.7 M77.40,220.32 h1.7 M448.90,220.32 h-1.7 M77.40,216.81 h1.7 M448.90,216.81 h-1.7 M77.40,214.09 h1.7 M448.90,214.09 h-1.7 M77.40,211.86 h1.7 M448.90,211.86 h-1.7 M77.40,209.98 h1.7 M448.90,209.98 h-1.7 M77.40,208.35 h1.7 M448.90,208.35 h-1.7 M77.40,206.92 h1.7 M448.90,206.92 h-1.7 M77.40,205.63 h1.7 M448.90,205.63 h-1.7 M77.40,197.17 h1.7 M448.90,197.17 h-1.7 M77.40,192.23 h1.7 M448.90,192.23 h-1.7 M77.40,188.72 h1.7 M448.90,188.72 h-1.7 M77.40,186.00 h1.7 M448.90,186.00 h-1.7 M77.40,183.77 h1.7 M448.90,183.77 h-1.7 M77.40,181.89 h1.7 M448.90,181.89 h-1.7 M77.40,180.26 h1.7 M448.90,180.26 h-1.7 M77.40,178.83 h1.7 M448.90,178.83 h-1.7 M77.40,177.54 h1.7 M448.90,177.54 h-1.7 M77.40,169.08 h1.7 M448.90,169.08 h-1.7 M77.40,164.14 h1.7 M448.90,164.14 h-1.7 M77.40,160.63 h1.7 M448.90,160.63 h-1.7 M77.40,157.91 h1.7 M448.90,157.91 h-1.7 M77.40,155.68 h1.7 M448.90,155.68 h-1.7 M77.40,153.80 h1.7 M448.90,153.80 h-1.7 M77.40,152.17 h1.7 M448.90,152.17 h-1.7 M77.40,150.74 h1.7 M448.90,150.74 h-1.7 M77.40,149.45 h1.7 M448.90,149.45 h-1.7 M77.40,140.99 h1.7 M448.90,140.99 h-1.7 M77.40,136.05 h1.7 M448.90,136.05 h-1.7 M77.40,132.54 h1.7 M448.90,132.54 h-1.7 M77.40,129.82 h1.7 M448.90,129.82 h-1.7 M77.40,127.59 h1.7 M448.90,127.59 h-1.7 M77.40,125.71 h1.7 M448.90,125.71 h-1.7 M77.40,124.08 h1.7 M448.90,124.08 h-1.7 M77.40,122.65 h1.7 M448.90,122.65 h-1.7 M77.40,121.36 h1.7 M448.90,121.36 h-1.7 M77.40,112.90 h1.7 M448.90,112.90 h-1.7 M77.40,107.96 h1.7 M448.90,107.96 h-1.7 M77.40,104.45 h1.7 M448.90,104.45 h-1.7 M77.40,101.73 h1.7 M448.90,101.73 h-1.7 M77.40,99.50 h1.7 M448.90,99.50 h-1.7 M77.40,97.62 h1.7 M448.90,97.62 h-1.7 M77.40,95.99 h1.7 M448.90,95.99 h-1.7 M77.40,94.56 h1.7 M448.90,94.56 h-1.7 M77.40,93.27 h1.7 M448.90,93.27 h-1.7 M77.40,84.81 h1.7 M448.90,84.81 h-1.7 M77.40,79.87 h1.7 M448.90,79.87 h-1.7 M77.40,76.36 h1.7 M448.90,76.36 h-1.7 M77.40,73.64 h1.7 M448.90,73.64 h-1.7 M77.40,71.41 h1.7 M448.90,71.41 h-1.7 M77.40,69.53 h1.7 M448.90,69.53 h-1.7 M77.40,67.90 h1.7 M448.90,67.90 h-1.7 M77.40,66.47 h1.7 M448.90,66.47 h-1.7 M77.40,65.18 h1.7 M448.90,65.18 h-1.7 M77.40,56.72 h1.7 M448.90,56.72 h-1.7 M77.40,51.78 h1.7 M448.90,51.78 h-1.7 M77.40,48.27 h1.7 M448.90,48.27 h-1.7 M77.40,45.55 h1.7 M448.90,45.55 h-1.7 M77.40,43.32 h1.7 M448.90,43.32 h-1.7 M77.40,41.44 h1.7 M448.90,41.44 h-1.7 M77.40,39.81 h1.7 M448.90,39.81 h-1.7 M77.40,38.38 h1.7 M448.90,38.38 h-1.7 M77.40,37.09 h1.7 M448.90,37.09 h-1.7 M77.40,28.63 h1.7 M448.90,28.63 h-1.7 M77.40,23.69 h1.7 M448.90,23.69 h-1.7 M77.40,20.18 h1.7 M448.90,20.18 h-1.7 M77.40,17.46 h1.7 M448.90,17.46 h-1.7 M77.40,15.23 h1.7 M448.90,15.23 h-1.7 M77.40,13.35 h1.7 M448.90,13.35 h-1.7 M77.40,11.72 h1.7 M448.90,11.72 h-1.7 M77.40,10.29 h1.7 M448.90,10.29 h-1.7" stroke="#000" stroke-width="0.5" fill="none"/>
<path d="M77.40,237.60 v-4.60 M77.40,9.00 v4.60 M89.78,237.60 v-3.00 M89.78,9.00 v3.00 M102.17,237.60 v-3.00 M102.17,9.00 v3.00 M114.55,237.60 v-3.00 M114.55,9.00 v3.00 M126.93,237.60 v-3.00 M126.93,9.00 v3.00 M139.32,237.60 v-4.60 M139.32,9.00 v4.60 M151.70,237.60 v-3.00 M151.70,9.00 v3.00 M164.08,237.60 v-3.00 M164.08,9.00 v3.00 M176.47,237.60 v-3.00 M176.47,9.00 v3.00 M188.85,237.60 v-3.00 M188.85,9.00 v3.00 M201.23,237.60 v-4.60 M201.23,9.00 v4.60 M213.62,237.60 v-3.00 M213.62,9.00 v3.00 M226.00,237.60 v-3.00 M226.00,9.00 v3.00 M238.38,237.60 v-3.00 M238.38,9.00 v3.00 M250.77,237.60 v-3.00 M250.77,9.00 v3.00 M263.15,237.60 v-4.60 M263.15,9.00 v4.60 M275.53,237.60 v-3.00 M275.53,9.00 v3.00 M287.92,237.60 v-3.00 M287.92,9.00 v3.00 M300.30,237.60 v-3.00 M300.30,9.00 v3.00 M312.68,237.60 v-3.00 M312.68,9.00 v3.00 M325.07,237.60 v-4.60 M325.07,9.00 v4.60 M337.45,237.60 v-3.00 M337.45,9.00 v3.00 M349.83,237.60 v-3.00 M349.83,9.00 v3.00 M362.22,237.60 v-3.00 M362.22,9.00 v3.00 M374.60,237.60 v-3.00 M374.60,9.00 v3.00 M386.98,237.60 v-4.60 M386.98,9.00 v4.60 M399.37,237.60 v-3.00 M399.37,9.00 v3.00 M411.75,237.60 v-3.00 M411.75,9.00 v3.00 M424.13,237.60 v-3.00 M424.13,9.00 v3.00 M436.52,237.60 v-3.00 M436.52,9.00 v3.00 M448.90,237.60 v-4.60 M448.90,9.00 v4.60 M77.40,9.00 h4.60 M448.90,9.00 h-4.60 M77.40,65.18 h4.60 M448.90,65.18 h-4.60 M77.40,121.36 h4.60 M448.90,121.36 h-4.60 M77.40,177.54 h4.60 M448.90,177.54 h-4.60 M77.40,233.72 h4.60 M448.90,233.72 h-4.60" stroke="#000" stroke-width="1.7" fill="none"/>
<rect x="77.40" y="9.00" width="371.50" height="228.60" fill="none" stroke="#000" stroke-width="2.1"/>
<text transform="translate(73.70,13.70) scale(1,1.08)" font-size="17.6" text-anchor="end" >10</text>
<text transform="translate(73.70,69.68) scale(1,1.03)" font-size="17.6" text-anchor="end" >0.1</text>
<text transform="translate(73.70,125.86) scale(1,1.03)" font-size="17.6" text-anchor="end" >0.001</text>
<text transform="translate(58.90,184.94) scale(1,1.03)" font-size="17.6" text-anchor="end" >10</text><text transform="translate(59.20,178.64) scale(1,1.03)" font-size="12.5" text-anchor="start" >−</text><text transform="translate(66.33,177.34) scale(1,1.03)" font-size="12.5" text-anchor="start" >5</text>
<text transform="translate(58.90,241.12) scale(1,1.03)" font-size="17.6" text-anchor="end" >10</text><text transform="translate(59.20,234.82) scale(1,1.03)" font-size="12.5" text-anchor="start" >−</text><text transform="translate(66.33,233.52) scale(1,1.03)" font-size="12.5" text-anchor="start" >7</text>
<text transform="translate(77.60,255.45) scale(1,1.03)" font-size="17.6" text-anchor="middle" >0.0</text>
<text transform="translate(139.52,255.45) scale(1,1.03)" font-size="17.6" text-anchor="middle" >0.5</text>
<text transform="translate(201.43,255.45) scale(1,1.03)" font-size="17.6" text-anchor="middle" >1.0</text>
<text transform="translate(263.35,255.45) scale(1,1.03)" font-size="17.6" text-anchor="middle" >1.5</text>
<text transform="translate(325.27,255.45) scale(1,1.03)" font-size="17.6" text-anchor="middle" >2.0</text>
<text transform="translate(387.18,255.45) scale(1,1.03)" font-size="17.6" text-anchor="middle" >2.5</text>
<text transform="translate(449.10,255.45) scale(1,1.03)" font-size="17.6" text-anchor="middle" >3.0</text>
<text transform="translate(241.80,280.30) scale(1.08,1)" font-size="17.6" text-anchor="start" font-style="italic" stroke="none">τ</text>
<text transform="translate(251.10,281.40) scale(1,1.06)" font-size="17.6" text-anchor="start" >[</text>
<text transform="translate(257.90,280.30) scale(1,1)" font-size="17.6" text-anchor="start" >fm</text>
<text transform="translate(278.10,281.40) scale(1,1.06)" font-size="17.6" text-anchor="start" >]</text>
<g transform="translate(18.9,160.1) rotate(-90)"><text transform="translate(0.00,0.00) scale(1,1)" font-size="17.6" text-anchor="start" >eB</text><text transform="translate(19.20,3.40) scale(1,1)" font-size="10.6" text-anchor="start" font-style="italic">y</text><text transform="translate(25.60,0.00) scale(1,1)" font-size="17.6" text-anchor="start" >[fm</text><text transform="translate(52.80,-6.10) scale(1,1.03)" font-size="12.5" text-anchor="start" >−</text><text transform="translate(60.52,-7.10) scale(1,1.08)" font-size="12.5" text-anchor="start" >2</text><text transform="translate(66.90,0.00) scale(1,1)" font-size="17.6" text-anchor="start" >]</text></g>
<path d="M466,29.00 H489" stroke="#ff0000" stroke-width="2.1" fill="none" />
<text transform="translate(498.60,33.00) scale(1.08,0.9)" font-size="12.5" text-anchor="start" font-style="italic" stroke="none">σ</text>
<rect x="502.5" y="27.55" width="5.0" height="1.3" fill="#000"/>
<text transform="translate(507.60,28.80) scale(1,1.12)" font-size="9.2" text-anchor="start" >max</text>
<text transform="translate(508.30,36.40) scale(1,1.1)" font-size="9.3" text-anchor="start" >E</text>
<rect x="525.8" y="27.90" width="7.0" height="1.4" fill="#000"/>
<rect x="525.8" y="31.00" width="7.0" height="1.4" fill="#000"/>
<text transform="translate(533.50,33.20) scale(1,1.13)" font-size="13.2" text-anchor="start" >0</text>
<text transform="translate(542.90,33.20) scale(1,1.15)" font-size="12.3" text-anchor="start" >fm</text>
<text transform="translate(557.90,28.30) scale(1,1.1)" font-size="9.2" text-anchor="start" >−</text>
<text transform="translate(563.14,27.70) scale(1,1.1)" font-size="9.2" text-anchor="start" >1</text>
<path d="M466,47.40 H489" stroke="#0000ff" stroke-width="2.1" fill="none" stroke-dasharray="6.6 3" stroke-dashoffset="1"/>
<text transform="translate(498.60,51.40) scale(1.08,0.9)" font-size="12.5" text-anchor="start" font-style="italic" stroke="none">σ</text>
<rect x="502.5" y="45.95" width="5.0" height="1.3" fill="#000"/>
<text transform="translate(507.60,47.20) scale(1,1.12)" font-size="9.2" text-anchor="start" >max</text>
<text transform="translate(508.30,54.80) scale(1,1.1)" font-size="9.3" text-anchor="start" >E</text>
<rect x="525.8" y="46.30" width="7.0" height="1.4" fill="#000"/>
<rect x="525.8" y="49.40" width="7.0" height="1.4" fill="#000"/>
<text transform="translate(533.50,51.60) scale(1,1.13)" font-size="13.2" text-anchor="start" >0.023</text>
<text transform="translate(566.00,51.60) scale(1,1.15)" font-size="12.3" text-anchor="start" >fm</text>
<text transform="translate(581.00,46.70) scale(1,1.1)" font-size="9.2" text-anchor="start" >−</text>
<text transform="translate(586.24,46.10) scale(1,1.1)" font-size="9.2" text-anchor="start" >1</text>
<path d="M466,65.90 H489" stroke="#ff8000" stroke-width="2.1" fill="none" />
<text transform="translate(498.60,69.90) scale(1.08,0.9)" font-size="12.5" text-anchor="start" font-style="italic" stroke="none">σ</text>
<rect x="502.5" y="64.45" width="5.0" height="1.3" fill="#000"/>
<text transform="translate(507.60,65.70) scale(1,1.12)" font-size="9.2" text-anchor="start" >max</text>
<text transform="translate(508.30,73.30) scale(1,1.1)" font-size="9.3" text-anchor="start" >E</text>
<rect x="525.8" y="64.80" width="7.0" height="1.4" fill="#000"/>
<rect x="525.8" y="67.90" width="7.0" height="1.4" fill="#000"/>
<text transform="translate(533.50,70.10) scale(1,1.13)" font-size="13.2" text-anchor="start" >0.1</text>
<text transform="translate(552.80,70.10) scale(1,1.15)" font-size="12.3" text-anchor="start" >fm</text>
<text transform="translate(567.80,65.20) scale(1,1.1)" font-size="9.2" text-anchor="start" >−</text>
<text transform="translate(573.04,64.60) scale(1,1.1)" font-size="9.2" text-anchor="start" >1</text>
<path d="M466,84.50 H489" stroke="#00ff00" stroke-width="2.1" fill="none" stroke-dasharray="7 2.4 3.2 2.4" stroke-dashoffset="9.4"/>
<text transform="translate(498.60,88.50) scale(1.08,0.9)" font-size="12.5" text-anchor="start" font-style="italic" stroke="none">σ</text>
<rect x="502.5" y="83.05" width="5.0" height="1.3" fill="#000"/>
<text transform="translate(507.60,84.30) scale(1,1.12)" font-size="9.2" text-anchor="start" >max</text>
<text transform="translate(508.30,91.90) scale(1,1.1)" font-size="9.3" text-anchor="start" >E</text>
<rect x="525.8" y="83.40" width="7.0" height="1.4" fill="#000"/>
<rect x="525.8" y="86.50" width="7.0" height="1.4" fill="#000"/>
<text transform="translate(533.50,88.70) scale(1,1.13)" font-size="13.2" text-anchor="start" >1</text>
<text transform="translate(542.90,88.70) scale(1,1.15)" font-size="12.3" text-anchor="start" >fm</text>
<text transform="translate(557.90,83.80) scale(1,1.1)" font-size="9.2" text-anchor="start" >−</text>
<text transform="translate(563.14,83.20) scale(1,1.1)" font-size="9.2" text-anchor="start" >1</text>
</svg>
</body></html>
